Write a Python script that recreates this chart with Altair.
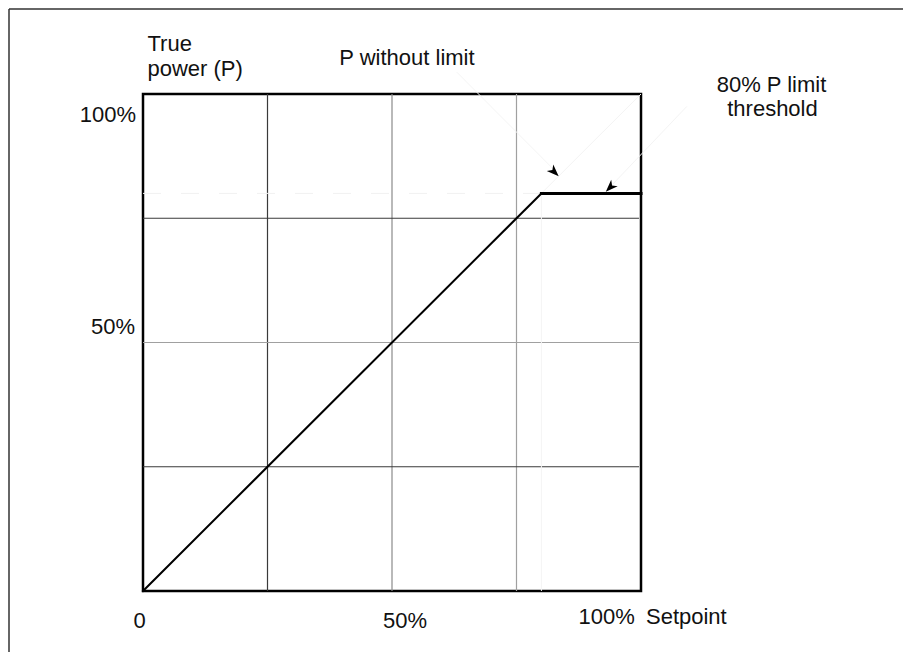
import altair as alt
import pandas as pd

# ---- data ----
setpoint = [0, 80, 100]          # % setpoint (curve corners)
power = [0, 80, 80]              # % true power
seg_width = [2, 3]               # line width of each curve segment
grid_x = [25, 50, 75]
grid_x_colors = ["#3a3a3a", "#8a8a8a", "#a0a0a0"]
grid_y = [25, 50, 75]
grid_y_colors = ["#3a3a3a", "#a0a0a0", "#3a3a3a"]

limit = 80
full = 100

# faint helper / pointer lines (x, y, x2, y2)
faint_x = [limit, 63.0, 109.2, limit]
faint_y = [limit, 104.4, 97.5, 0]
faint_x2 = [full, 82.3, 94.1, limit]
faint_y2 = [full, 85.0, 81.6, limit]

arrow_x = [82.6, 93.8]
arrow_y = [84.3, 81.2]
arrow_angle = [135, 225]

label_text = ["True", "power (P)", "P without limit", "80% P limit", "threshold",
              "100%", "50%", "0", "50%", "100%", "Setpoint"]
label_x = [0.9, 0.9, 53.0, 126.2, 126.4, -1.4, -1.6, -0.7, 52.6, 93.1, 101.0]
label_y = [110.0, 105.0, 107.3, 101.8, 97.0, 95.8, 53.1, -6.1, -6.1, -5.3, -5.3]
label_align = ["left", "left", "center", "center", "center",
               "right", "right", "center", "center", "center", "left"]

W, H = 498, 497
PAD_L, PAD_T = 135, 86
TOTAL_W, TOTAL_H = 895, 644

xs = alt.Scale(domain=[0, 100], nice=False, zero=False)
ys = alt.Scale(domain=[0, 100], nice=False, zero=False)

seg_df = pd.DataFrame({
    "x": setpoint[:-1], "y": power[:-1],
    "x2": setpoint[1:], "y2": power[1:], "w": seg_width,
})
gx_df = pd.DataFrame({"v": grid_x, "c": grid_x_colors})
gy_df = pd.DataFrame({"v": grid_y, "c": grid_y_colors})
faint_df = pd.DataFrame({"x": faint_x, "y": faint_y, "x2": faint_x2, "y2": faint_y2})
dash_df = pd.DataFrame({"x": [0], "x2": [limit], "y": [limit]})
arrow_df = pd.DataFrame({"x": arrow_x, "y": arrow_y, "a": arrow_angle})
lab_df = pd.DataFrame({"t": label_text, "x": label_x, "y": label_y, "al": label_align})

X = lambda f: alt.X(f, type="quantitative", scale=xs, axis=None)
Y = lambda f: alt.Y(f, type="quantitative", scale=ys, axis=None)

gridx = alt.Chart(gx_df).mark_rule(strokeWidth=1.2).encode(
    x=X("v"), y=alt.value(0), y2=alt.value(H),
    color=alt.Color("c:N", scale=None))
gridy = alt.Chart(gy_df).mark_rule(strokeWidth=1.2).encode(
    y=Y("v"), x=alt.value(0), x2=alt.value(W - 2),
    color=alt.Color("c:N", scale=None))

faint = alt.Chart(faint_df).mark_rule(color="#f4f4f4", strokeWidth=1).encode(
    x=X("x"), y=Y("y"), x2="x2", y2="y2")
dash = alt.Chart(dash_df).mark_rule(color="#f1f1f1", strokeWidth=1,
                                    strokeDash=[18, 20]).encode(
    x=X("x"), x2="x2", y=Y("y"))

curve = alt.Chart(seg_df).mark_rule(color="black", strokeCap="square").encode(
    x=X("x"), y=Y("y"), x2="x2", y2="y2",
    strokeWidth=alt.StrokeWidth("w:Q", scale=None))

arrows = alt.Chart(arrow_df).mark_point(
    shape="M0,-1L0.75,1L0,0.45L-0.75,1Z", filled=True, color="black",
    opacity=1, size=150).encode(
    x=X("x"), y=Y("y"), angle=alt.Angle("a:Q", scale=None))

texts = []
for al in ["left", "center", "right"]:
    texts.append(alt.Chart(lab_df).transform_filter(alt.datum.al == al).mark_text(
        align=al, baseline="middle", font="Liberation Sans", fontSize=22,
        color="#111111").encode(x=X("x"), y=Y("y"), text="t:N"))

frame_left = alt.Chart(dash_df).mark_rule(color="#333333", strokeWidth=1.5).encode(
    x=alt.value(-PAD_L + 1), y=alt.value(-PAD_T + 1), y2=alt.value(TOTAL_H - PAD_T))
frame_top = alt.Chart(dash_df).mark_rule(color="#333333", strokeWidth=1.5).encode(
    x=alt.value(-PAD_L + 1), x2=alt.value(TOTAL_W - PAD_L), y=alt.value(-PAD_T + 1))

chart = alt.layer(
    gridx, gridy, faint, dash, curve, arrows, *texts, frame_left, frame_top
).properties(
    width=W, height=H,
    padding={"left": PAD_L, "top": PAD_T, "right": TOTAL_W - PAD_L - W,
             "bottom": TOTAL_H - PAD_T - H},
    autosize=alt.AutoSizeParams(type="none"),
    background="white",
).configure_view(stroke="black", strokeWidth=2.5)

chart.save("out.html", embed_options={"renderer": "svg", "actions": False})
